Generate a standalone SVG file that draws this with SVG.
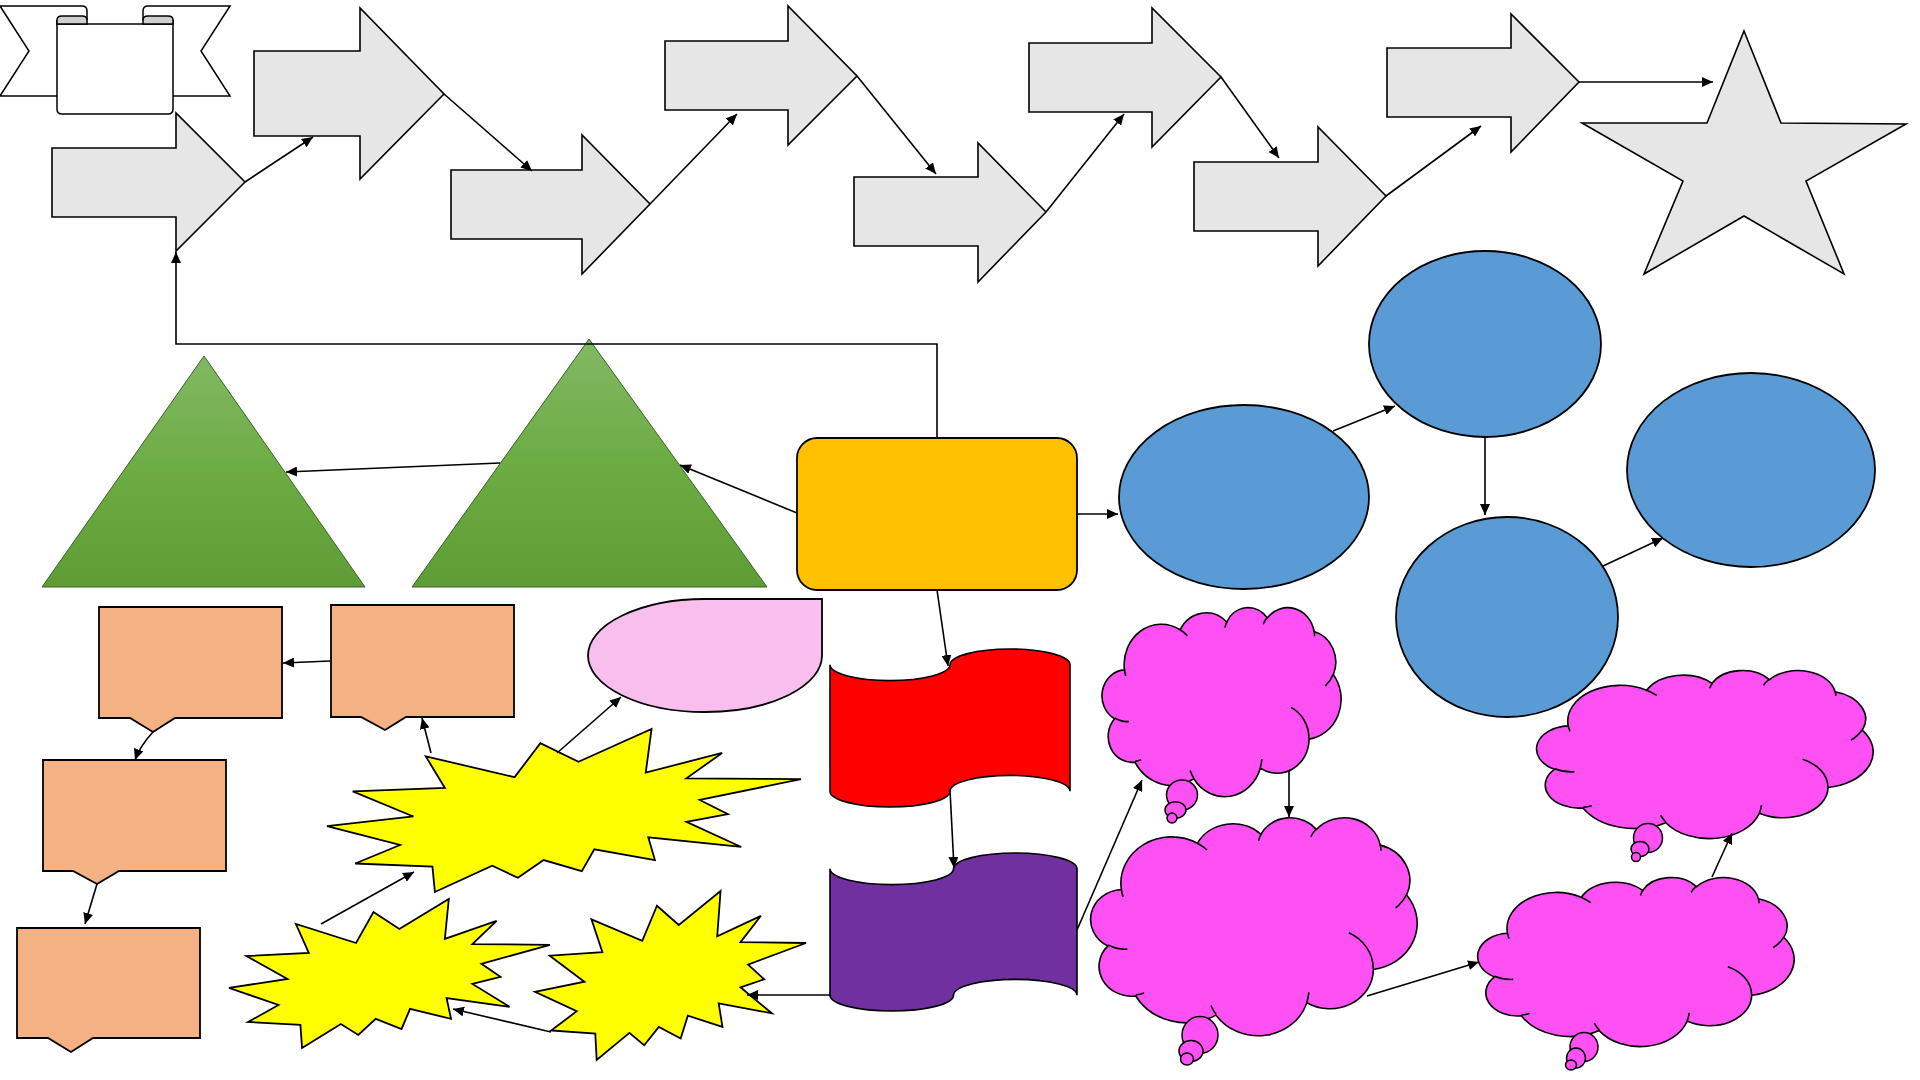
<svg xmlns="http://www.w3.org/2000/svg" width="1920" height="1080" viewBox="0 0 1920 1080">
<style>
.ba{fill:#e7e6e6;stroke:#000;stroke-width:1.6}
.tri{fill:url(#g);stroke:#3f5f2c;stroke-width:1}
.ell{fill:#5b9bd5;stroke:#000;stroke-width:1.8}
.peach{fill:#f4b183;stroke:#000;stroke-width:1.8}
.burst{fill:#ffff00;stroke:#000;stroke-width:1.8}
.cl{fill:#ff50f4;stroke:#000;stroke-width:1.6}
.cli{fill:none;stroke:#000;stroke-width:1.6}
.bub{fill:#ff50f4;stroke:#000;stroke-width:1.5}
.rib{fill:#fff;stroke:#000;stroke-width:1.5}
.c{fill:none;stroke:#000;stroke-width:1.6;marker-end:url(#ah)}
</style>
<defs>
<marker id="ah" markerUnits="userSpaceOnUse" markerWidth="12" markerHeight="10" refX="11" refY="5" orient="auto">
<path d="M0,0 L11,5 L0,10 Z" fill="#000"/>
</marker>
<linearGradient id="g" x1="0" y1="0" x2="0" y2="1">
<stop offset="0" stop-color="#82b865"/>
<stop offset="0.5" stop-color="#6cac43"/>
<stop offset="1" stop-color="#5e9d35"/>
</linearGradient>
<path id="cloudP" vector-effect="non-scaling-stroke" d="M90.3,332.6 A156.3,212.7 0 0 1 324.2,120.4 A123.4,168.2 0 0 1 519.8,79.4 A101,137.6 0 0 1 690.5,57.4 A112.4,152.7 0 0 1 886.9,129.1 A123.4,168.4 0 0 1 968,357.8 A156.8,213.4 0 0 1 865.8,699.2 A133.9,182.1 0 0 1 661,852.2 A156.3,213.3 0 0 1 381.5,908.9 A178.7,244.1 0 0 1 134.3,821.1 A100.9,137 0 0 1 48.9,591.4 A100.6,137.6 0 0 1 90.3,332.6 Z"/>
<path id="cloudI" vector-effect="non-scaling-stroke" d="M108.6,605.9 A100.6,137.6 0 0 1 50,587.5 M160.4,807.8 A100.9,137 0 0 1 134.7,816.7 M381.4,904.9 A156.3,213.3 0 0 1 366,864.6 M667.3,804.4 A156.3,213.3 0 0 1 661.1,848.6 M790,531.3 A133.9,182.1 0 0 1 865.3,696.5 M967.5,355.4 A123.4,168.4 0 0 1 934,417.4 M887.1,125.6 A112.4,152.7 0 0 1 888.9,154.8 M673.1,91.5 A112.4,152.7 0 0 1 690.3,54.1 M512.5,109.3 A101,137.6 0 0 1 520.8,77.1 M324.1,120.2 A156.3,212.7 0 0 1 354.2,151.4 M95.5,365.5 A156.3,212.7 0 0 1 90.3,332.7"/>
<polygon id="seal2" vector-effect="non-scaling-stroke" points="11462,4342 14790,0 14525,5777 18007,3172 16380,6532 21600,6645 16985,9402 18270,11290 16380,12310 18877,15632 14640,14350 14942,17370 12180,15935 11612,18842 9872,17370 8700,19712 7527,18125 4917,21600 4805,18240 1285,17825 3330,15370 0,12877 3935,11592 1172,8270 5372,7817 4502,3625 8550,6382 9722,1887"/>
</defs>
<rect width="1920" height="1080" fill="#fff"/>

<g id="ribbon">
<path class="rib" d="M0,6 H82 Q87,6 87,11 V96 H0 L29,51 Z"/>
<path class="rib" d="M230,6 H148 Q143,6 143,11 V96 H230 L201,51 Z"/>
<path class="rib" d="M57,20 V109 Q57,114 62,114 H168 Q173,114 173,109 V20 M57,24 H173"/>
<path d="M57,24 V20 Q57,16 62,16 H82 Q87,16 87,20 V24 Z" fill="#d0cece" stroke="#000" stroke-width="1.5"/>
<path d="M143,24 V20 Q143,16 148,16 H168 Q173,16 173,20 V24 Z" fill="#d0cece" stroke="#000" stroke-width="1.5"/>
</g>

<g id="arrowA"><polygon class="ba" points="52,148 176,148 176,113 245,182 176,251 176,217 52,217"/></g>
<g id="arrowB"><polygon class="ba" points="254,51 360,51 360,8 444,94 360,179 360,136 254,136"/></g>
<g id="arrowC"><polygon class="ba" points="451,170 582,170 582,135 650,204 582,274 582,239 451,239"/></g>
<g id="arrowD"><polygon class="ba" points="665,41 788,41 788,6 857,76 788,145 788,110 665,110"/></g>
<g id="arrowE"><polygon class="ba" points="854,177 978,177 978,143 1046,212 978,282 978,246 854,246"/></g>
<g id="arrowF"><polygon class="ba" points="1029,43 1152,43 1152,8 1221,77 1152,147 1152,112 1029,112"/></g>
<g id="arrowG"><polygon class="ba" points="1194,162 1318,162 1318,127 1386,196 1318,266 1318,231 1194,231"/></g>
<g id="arrowH"><polygon class="ba" points="1387,48 1511,48 1511,14 1579,82 1511,152 1511,117 1387,117"/></g>
<g id="star"><polygon class="ba" points="1744,31 1781,123 1906,124 1806,181 1844,274 1744,216 1644,274 1683,181 1582,123 1707,123"/></g>

<g id="tri1"><polygon class="tri" points="204,356 365,587 42,587"/></g>
<g id="tri2"><polygon class="tri" points="589,339 767,587 412,587"/></g>

<g id="process"><rect x="797" y="438" width="280" height="152" rx="20" fill="#ffc000" stroke="#000" stroke-width="1.8"/></g>

<g id="ell1"><ellipse class="ell" cx="1244" cy="497" rx="125" ry="92"/></g>
<g id="ell2"><ellipse class="ell" cx="1485" cy="344" rx="116" ry="93"/></g>
<g id="ell3"><ellipse class="ell" cx="1507" cy="617" rx="111" ry="100"/></g>
<g id="ell4"><ellipse class="ell" cx="1751" cy="470" rx="124" ry="97"/></g>

<g id="callout1"><path class="peach" d="M99,607 H282 V718 H175 L153,732 L130,718 H99 Z"/></g>
<g id="callout2"><path class="peach" d="M331,605 H514 V717 H406 L385,730 L361,717 H331 Z"/></g>
<g id="callout3"><path class="peach" d="M43,760 H226 V871 H119 L97,884 L73,871 H43 Z"/></g>
<g id="callout4"><path class="peach" d="M17,928 H200 V1038 H93 L71,1052 L48,1038 H17 Z"/></g>

<g id="teardrop"><path d="M588,655.5 A117,56.5 0 0 1 705,599 H822 V655.5 A117,56.5 0 0 1 705,712 A117,56.5 0 0 1 588,655.5 Z" fill="#f8beed" stroke="#000" stroke-width="1.8"/></g>

<g id="burstBig"><use href="#seal2" class="burst" transform="translate(327,729) scale(0.021944,0.0075463)"/></g>
<g id="burstSmall1"><use href="#seal2" class="burst" transform="translate(229,899) scale(0.014861,0.0068981)"/></g>
<g id="burstSmall2"><use href="#seal2" class="burst" transform="translate(535,891) scale(0.012546,0.0078241)"/></g>

<g id="flagRed"><path d="M830,664.8 A60,15.8 0 0 0 950,664.8 A60,15.8 0 0 1 1070,664.8 V791.2 A60,15.8 0 0 0 950,791.2 A60,15.8 0 0 1 830,791.2 Z" fill="#ff0000" stroke="#000" stroke-width="1.6"/></g>
<g id="flagPurple"><path d="M830,868.8 A61.75,15.8 0 0 0 953.5,868.8 A61.75,15.8 0 0 1 1077,868.8 V995.2 A61.75,15.8 0 0 0 953.5,995.2 A61.75,15.8 0 0 1 830,995.2 Z" fill="#7030a0" stroke="#000" stroke-width="1.6"/></g>

<g id="cloud1">
<g transform="translate(1103,607) scale(0.238,0.189)"><use href="#cloudP" class="cl"/><use href="#cloudI" class="cli"/></g>
<ellipse class="bub" cx="1182" cy="795" rx="15.5" ry="15"/>
<ellipse class="bub" cx="1175.5" cy="810" rx="10.5" ry="8.3"/>
<ellipse class="bub" cx="1172" cy="818" rx="5" ry="5"/>
</g>
<g id="cloud2">
<g transform="translate(1092,817) scale(0.325,0.218)"><use href="#cloudP" class="cl"/><use href="#cloudI" class="cli"/></g>
<ellipse class="bub" cx="1200" cy="1035" rx="18" ry="18.5"/>
<ellipse class="bub" cx="1191" cy="1051" rx="12" ry="10.5"/>
<ellipse class="bub" cx="1187" cy="1059" rx="6.5" ry="6"/>
</g>
<g id="cloud3">
<g transform="translate(1538,670) scale(0.335,0.168)"><use href="#cloudP" class="cl"/><use href="#cloudI" class="cli"/></g>
<ellipse class="bub" cx="1648" cy="838" rx="14.5" ry="14.5"/>
<ellipse class="bub" cx="1640" cy="849" rx="9" ry="7.5"/>
<ellipse class="bub" cx="1636" cy="857" rx="4.5" ry="4.5"/>
</g>
<g id="cloud4">
<g transform="translate(1479,877) scale(0.315,0.169)"><use href="#cloudP" class="cl"/><use href="#cloudI" class="cli"/></g>
<ellipse class="bub" cx="1584" cy="1047" rx="14" ry="14.5"/>
<ellipse class="bub" cx="1576" cy="1058" rx="9.5" ry="10"/>
<ellipse class="bub" cx="1571" cy="1065" rx="5.5" ry="5"/>
</g>

<g id="connectors">
<polyline class="c" points="937,438 937,344 176,344 176,252"/>
<line class="c" x1="245" y1="182" x2="313" y2="137"/>
<line class="c" x1="444" y1="94" x2="532" y2="171"/>
<line class="c" x1="650" y1="204" x2="737" y2="114"/>
<line class="c" x1="857" y1="76" x2="936" y2="174"/>
<line class="c" x1="1046" y1="212" x2="1124" y2="114"/>
<line class="c" x1="1221" y1="77" x2="1279" y2="158"/>
<line class="c" x1="1386" y1="196" x2="1481" y2="126"/>
<line class="c" x1="1579" y1="82" x2="1713" y2="82"/>
<line class="c" x1="797" y1="513" x2="680" y2="465"/>
<line class="c" x1="500" y1="463" x2="286" y2="472"/>
<line class="c" x1="1077" y1="514" x2="1118" y2="514"/>
<line class="c" x1="1333" y1="431" x2="1395" y2="406"/>
<line class="c" x1="1485" y1="438" x2="1485" y2="515"/>
<line class="c" x1="1603" y1="566" x2="1663" y2="538"/>
<line class="c" x1="937" y1="590" x2="948" y2="666"/>
<line class="c" x1="950" y1="790" x2="954" y2="868"/>
<line class="c" x1="830" y1="995" x2="747" y2="995"/>
<line class="c" x1="1077" y1="930" x2="1142" y2="780"/>
<line class="c" x1="1289" y1="770" x2="1289" y2="817"/>
<line class="c" x1="1367" y1="996" x2="1479" y2="962"/>
<line class="c" x1="1712" y1="877" x2="1732" y2="833"/>
<line class="c" x1="551" y1="1032" x2="453" y2="1009"/>
<line class="c" x1="321" y1="924" x2="414" y2="872"/>
<line class="c" x1="431" y1="753" x2="422" y2="718"/>
<line class="c" x1="557" y1="753" x2="621" y2="697"/>
<line class="c" x1="330" y1="661" x2="283" y2="663"/>
<path class="c" d="M153,732 Q140,746 135,760"/>
<line class="c" x1="97" y1="884" x2="85" y2="924"/>
</g>
</svg>
